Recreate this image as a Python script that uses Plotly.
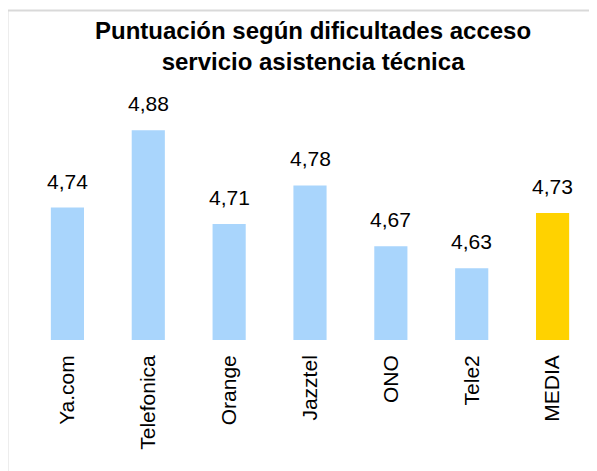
import plotly.graph_objects as go

# data
operadores = ["Ya.com", "Telefonica", "Orange", "Jazztel", "ONO", "Tele2", "MEDIA"]
puntuacion = [4.74, 4.88, 4.71, 4.78, 4.67, 4.63, 4.73]
colores = ["#A9D5FC"] * 6 + ["#FFD200"]

titulo = "Puntuación según dificultades acceso<br>servicio asistencia técnica"


def fmt(v):
    return f"{v:.2f}".replace(".", ",")


fig = go.Figure()
fig.add_trace(go.Bar(
    x=operadores,
    y=puntuacion,
    marker=dict(color=colores, line=dict(width=0)),
    width=0.41,
    hoverinfo="skip",
))

for op, v in zip(operadores, puntuacion):
    fig.add_annotation(
        x=op, y=v, text=fmt(v), showarrow=False,
        yanchor="bottom", yshift=13,
        font=dict(size=21, color="#000000"),
    )

# page body adds 8px, so margins are shifted by that amount
fig.update_layout(
    width=597,
    height=471,
    margin=dict(l=19, r=12, t=56, b=139),
    paper_bgcolor="white",
    plot_bgcolor="white",
    font=dict(family="Liberation Sans, Arial, sans-serif", color="#000000"),
    separators=",.",
    showlegend=False,
    title=dict(
        text=titulo,
        x=0.511, xanchor="center",
        y=0.934, yanchor="top",
        font=dict(size=24, color="#000000", weight="bold"),
    ),
    xaxis=dict(
        tickangle=-90,
        tickfont=dict(size=21),
        showline=False,
        showgrid=False,
        ticks="",
        ticklabelstandoff=10,
    ),
    yaxis=dict(
        range=[4.5, 5.0],
        visible=False,
        showgrid=False,
    ),
    shapes=[dict(
        type="rect", xref="paper", yref="paper",
        x0=-0.0345, x1=1.2, y0=-1.0, y1=1.194,
        line=dict(color="#D9D9D9", width=2),
        fillcolor="rgba(0,0,0,0)",
        layer="below",
    )],
)

fig.write_html("out.html")
